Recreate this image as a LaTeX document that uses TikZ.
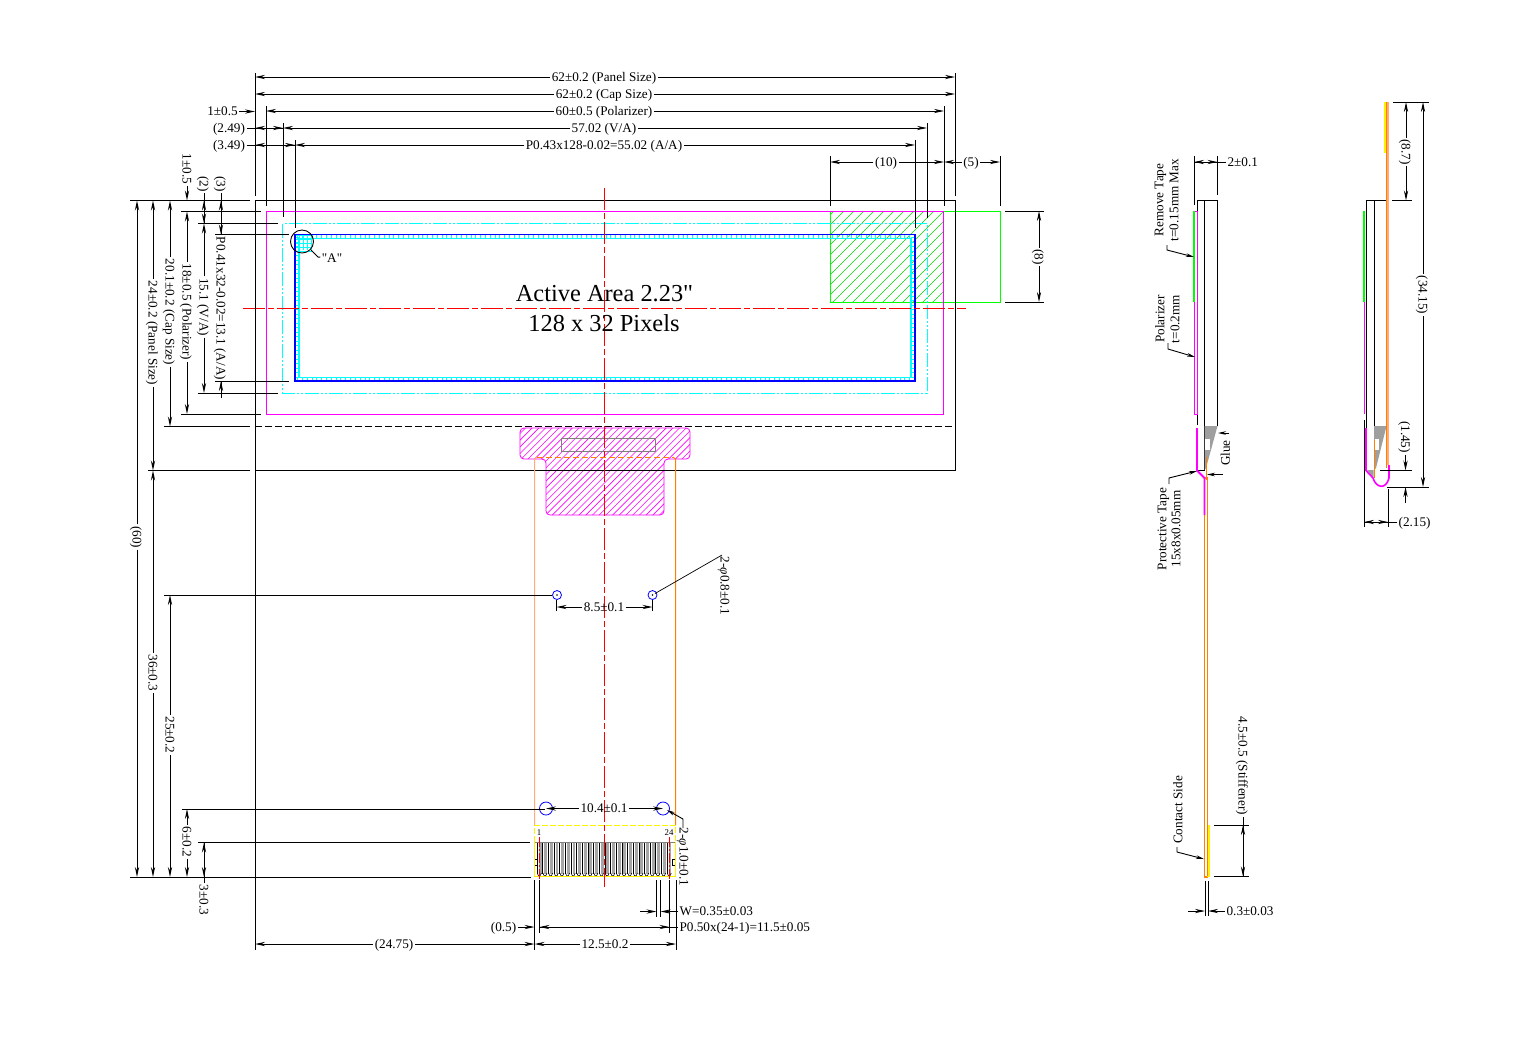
\documentclass[tikz,border=0pt]{standalone}
\usepackage{fontspec}
\setmainfont{Liberation Serif}[Ligatures=TeXOff]
\usetikzlibrary{arrows.meta}
\definecolor{fpcl}{RGB}{255,170,120}
\definecolor{fpc}{RGB}{255,128,0}
\definecolor{aqua}{RGB}{0,255,255}
\definecolor{lime}{RGB}{0,255,0}
\definecolor{pink}{RGB}{255,0,255}
\definecolor{ink}{RGB}{0,0,255}
\definecolor{centre}{RGB}{255,0,0}
\definecolor{sun}{RGB}{255,240,0}
\tikzset{
	ext/.style={line width=0.5pt},
	dim/.style={line width=0.5pt,-{Stealth[length=5pt,width=2.1pt]}},
	lead/.style={line width=0.45pt,-{Stealth[length=4pt,width=1.8pt]}},
	dimtext/.style={font=\fontsize{6.6}{7}\selectfont,inner sep=0.8pt,outer sep=0pt,text height=4.3pt,text depth=0pt},
	vtext/.style={dimtext,rotate=-90},
	utext/.style={dimtext,rotate=90},
	axis/.style={centre,line width=0.5pt,dash pattern=on 11pt off 1.5pt on 3pt off 1.5pt},
	phantomline/.style={aqua,line width=0.5pt,dash pattern=on 7pt off 1pt on 1pt off 1pt on 1pt off 1pt},
	hole/.style={ink,line width=0.4pt},
}
% name, y, x1, x2, x of text, text
\newcommand{\hdim}[6]{
	\node[dimtext] (#1) at (#5,#2) {#6};
	\draw[dim] (#1) -- (#3,#2);
	\draw[dim] (#1) -- (#4,#2);
}
% name, x, y1, y2, y of text, text
\newcommand{\vdim}[6]{
	\node[vtext] (#1) at (#2,#5) {#6};
	\draw[dim] (#1) -- (#2,#3);
	\draw[dim] (#1) -- (#2,#4);
}
\begin{document}
\begin{tikzpicture}[x=0.5pt,y=-0.5pt]
	\useasboundingbox (0,0) rectangle (1524,1041);
	\fill[white] (0,0) rectangle (1524,1041);

	% hatching
	\begin{scope}
		\clip[rounded corners=2pt] (520,428) -- (690,428) -- (690,459) -- (664,459) -- (664,515) -- (546,515) -- (546,459) -- (520,459) -- cycle;
		\foreach \k in {420,426.7,...,680}
			\draw[pink,line width=0.3pt] (\k,520) -- ++(100,-100);
	\end{scope}
	\draw[pink,line width=0.4pt,rounded corners=2pt] (520,428) -- (690,428) -- (690,459) -- (664,459) -- (664,515) -- (546,515) -- (546,459) -- (520,459) -- cycle;
	\draw[gray,line width=0.4pt] (561,438) rectangle (655,451);
	\begin{scope}
		\clip (830,211) rectangle (944,302);
		\foreach \k in {740,750,...,950}
			\draw[lime!85!black,line width=0.25pt] (\k,305) -- ++(100,-100);
	\end{scope}

	% lcd outlines
	\draw[lime,line width=0.5pt] (830,211) rectangle (1000,302);
	\draw[pink,line width=0.5pt] (266.5,211.5) rectangle (943.5,414);
	\draw[phantomline] (282.5,223.5) rectangle (927,393);
	\draw[aqua,line width=0.7pt] (299,238.5) rectangle (911,377.5);
	\foreach \k in {0,...,127} {
		\draw[aqua,line width=0.45pt] (297.5+\k*4.82,235) -- ++(0,4);
		\draw[aqua,line width=0.45pt] (297.5+\k*4.82,377) -- ++(0,4);
	}
	\foreach \k in {0,...,31} {
		\draw[aqua,line width=0.45pt] (295,237.5+\k*4.5) -- ++(4,0);
		\draw[aqua,line width=0.45pt] (911,237.5+\k*4.5) -- ++(4,0);
	}
	\foreach \k in {295,299.2,...,312} {
		\draw[aqua,line width=0.6pt] (\k,235) -- (\k,250);
		\draw[aqua,line width=0.6pt] (295,\k-60) -- (312,\k-60);
	}
	\draw[ink,line width=0.6pt] (295,234.5) rectangle (915,381);
	\draw[line width=0.45pt] (302,241.5) circle (11.5);
	\node[dimtext] (corner) at (332,258) {"A"};
	\draw[ext] (311,250) -- (318,257) -- (corner);

	% panel and tail
	\draw[ext] (255,200.5) rectangle (955,470.5);
	\draw[ext,dashed,dash pattern=on 3.5pt off 1.5pt] (255,426.5) -- (955,426.5);
	\draw[fpcl,line width=0.5pt] (534.5,825) -- (534.5,459) -- (537,457);
	\draw[fpc,line width=0.5pt] (675.5,825) -- (675.5,459) -- (673,457);
	\draw[fpc,line width=0.5pt,dashed,dash pattern=on 3pt off 1.5pt] (537,457) -- (673,457);
	\foreach \cx in {557,652.5} {
		\draw[hole] (\cx,595) circle (4.5);
		\fill (\cx,595) circle (0.8);
	}
	\foreach \cx in {546,663}
		\draw[hole] (\cx,808.5) circle (6.5);

	% contacts
	\foreach \k in {0,...,23} {
		\fill[gray!70] (538.6+\k*5.65,842.5) rectangle ++(2.9,31);
		\draw[line width=0.5pt] (537.3+\k*5.65,842.5) -- ++(0,31);
		\draw[line width=0.3pt] (537.3+\k*5.65,873) .. controls (538.3+\k*5.65,877) and (540.3+\k*5.65,877) .. (541.3+\k*5.65,873);
	}
	\draw[gray,line width=0.5pt] (534.5,842.5) -- (675.5,842.5);
	\draw[ext] (534.5,859) -- (537.5,859) -- (537.5,865) -- (534.5,865);
	\draw[ext] (675.5,859) -- (672.5,859) -- (672.5,865) -- (675.5,865);
	\draw[sun,line width=0.5pt,dashed,dash pattern=on 3pt off 1pt] (534.5,842) -- (534.5,825) -- (675.5,825) -- (675.5,842);
	\draw[sun,line width=0.8pt] (675.5,842) -- (675.5,876.5) -- (534.5,876.5) -- (534.5,842);
	\node[font=\fontsize{4.4}{5}\selectfont,inner sep=0pt] (pinfirst) at (539,833) {1};
	\node[font=\fontsize{4.4}{5}\selectfont,inner sep=0pt] (pinlast) at (669,833) {24};
	\foreach \cx in {539.5,669.5}
		\draw[axis,dash pattern=on 5pt off 1pt on 1pt off 1pt] (\cx,837) -- (\cx,880);

	% centre lines
	\draw[axis] (243,308) -- (966,308);
	\draw[axis] (604.5,188) -- (604.5,887);
	\node[font=\fontsize{12.2}{14}\selectfont,inner sep=0pt] (title) at (604.5,294) {Active Area 2.23"};
	\node[font=\fontsize{12.2}{14}\selectfont,inner sep=0pt] (pixels) at (604,323) {128 x 32 Pixels};

	% extension lines, top
	\draw[ext] (255,73) -- (255,196);
	\draw[ext] (955,73) -- (955,196);
	\draw[ext] (266,106) -- (266,206);
	\draw[ext] (944,106) -- (944,206);
	\draw[ext] (283,123) -- (283,217);
	\draw[ext] (927,123) -- (927,218);
	\draw[ext] (295,140) -- (295,228);
	\draw[ext] (915,140) -- (915,228);
	\draw[ext] (830,156) -- (830,206);
	\draw[ext] (1000,156) -- (1000,206);
	\draw[ext] (1005,211) -- (1044,211);
	\draw[ext] (1005,302) -- (1044,302);

	% extension lines, left
	\draw[ext] (130,200.5) -- (250,200.5);
	\draw[ext] (181,211.5) -- (261,211.5);
	\draw[ext] (198,223.5) -- (278,223.5);
	\draw[ext] (215,234.5) -- (289,234.5);
	\draw[ext] (215,381) -- (289,381);
	\draw[ext] (198,393) -- (278,393);
	\draw[ext] (181,414) -- (261,414);
	\draw[ext] (164,426.5) -- (250,426.5);
	\draw[ext] (148,470.5) -- (250,470.5);
	\draw[ext] (164,595) -- (552,595);
	\draw[ext] (182,809) -- (545,809);
	\draw[ext] (198,842.5) -- (530,842.5);
	\draw[ext] (130,877) -- (531,877);
	\draw[ext] (255,200.5) -- (255,950);

	% top dimensions
	\hdim{panelw}{77}{255}{955}{604}{62±0.2 (Panel Size)}
	\hdim{capw}{94}{255}{955}{604}{62±0.2 (Cap Size)}
	\hdim{polw}{111}{266}{944}{604}{60±0.5 (Polarizer)}
	\hdim{vaw}{128}{283}{927}{604}{57.02 (V/A)}
	\hdim{aaw}{145}{295}{915}{604}{P0.43x128-0.02=55.02 (A/A)}
	\node[dimtext] (polgap) at (222.5,111.5) {1±0.5};
	\draw[dim] (polgap) -- (255,111.5);
	\node[dimtext] (vagap) at (229,128) {(2.49)};
	\draw[dim] (vagap) -- (283,128);
	\draw[dim] (283,128) -- (255,128);
	\node[dimtext] (aagap) at (229,145) {(3.49)};
	\draw[dim] (aagap) -- (295,145);
	\draw[dim] (295,145) -- (255,145);
	\hdim{tapew}{162}{830}{944}{886}{(10)}
	\hdim{tapeout}{162}{944}{1000}{971}{(5)}
	\vdim{tapeh}{1039}{211}{302}{257}{(8)}

	% left dimensions
	\vdim{panelh}{137}{200.5}{877}{537}{(60)}
	\vdim{panelg}{153}{200.5}{470.5}{333}{24±0.2 (Panel Size)}
	\vdim{holey}{153}{470.5}{877}{673}{36±0.3}
	\vdim{caph}{170}{200.5}{426.5}{312}{20.1±0.2 (Cap Size)}
	\vdim{holeb}{170}{595}{877}{735}{25±0.2}
	\vdim{polh}{187}{211.5}{414}{312}{18±0.5 (Polarizer)}
	\vdim{vah}{204}{223.5}{393}{307}{15.1 (V/A)}
	\node[vtext] (aah) at (221,308.5) {P0.41x32-0.02=13.1 (A/A)};
	\draw[ext] (221,381) -- (221,398);
	\draw[dim] (221,398) -- (221,381);
	\node[vtext] (polgapv) at (187,169) {1±0.5};
	\draw[dim] (polgapv) -- (187,200.5);
	\node[vtext] (vagapv) at (204,184) {(2)};
	\draw[dim] (vagapv) -- (204,223.5);
	\draw[dim] (204,223.5) -- (204,200.5);
	\node[vtext] (aagapv) at (221,184) {(3)};
	\draw[dim] (aagapv) -- (221,234.5);
	\draw[dim] (221,234.5) -- (221,200.5);
	\vdim{padb}{187}{809}{877}{842}{6±0.2}
	\node[vtext] (fingh) at (204,900) {3±0.3};
	\draw[dim] (fingh) -- (204,842.5);
	\draw[dim] (204,842.5) -- (204,877);

	% tail dimensions
	\draw[ext] (556.5,600) -- (556.5,611);
	\draw[ext] (652.5,600) -- (652.5,611);
	\hdim{holew}{607}{556.5}{652.5}{604}{8.5±0.1}
	\hdim{padw}{808.5}{546}{663}{604}{10.4±0.1}
	\coordinate (leadtop) at (722,555);
	\draw[line width=0.35pt] (655,593.5) -- (leadtop);
	\node[vtext] (holedia) at (725,586) {2-{\itshape φ}0.8±0.1};
	\coordinate (padlead) at (683,819);
	\draw[lead] (683,828) -- (padlead) -- (667,810);
	\node[vtext] (paddia) at (684,857) {2-{\itshape φ}1.0±0.1};

	% bottom dimensions
	\draw[ext] (534.5,880) -- (534.5,950);
	\draw[ext] (676,880) -- (676,950);
	\draw[ext] (539.5,880) -- (539.5,933);
	\draw[ext] (669.5,880) -- (669.5,933);
	\draw[ext] (656.5,880) -- (656.5,917);
	\draw[ext] (660.5,880) -- (660.5,917);
	\node[dimtext,anchor=west] (fingw) at (678,911.5) {W=0.35±0.03};
	\draw[dim] (fingw) -- (660.5,911.5);
	\draw[dim] (640,911.5) -- (656.5,911.5);
	\node[dimtext,anchor=west] (fingp) at (678,927) {P0.50x(24-1)=11.5±0.05};
	\draw[dim] (fingp) -- (539.5,927);
	\draw[dim] (539.5,927) -- (669.5,927);
	\node[dimtext] (fingm) at (503.5,927) {(0.5)};
	\draw[dim] (fingm) -- (534.5,927);
	\hdim{tailw}{944}{534.5}{676}{605}{12.5±0.2}
	\hdim{tailx}{944}{255}{534.5}{394}{(24.75)}

	% side view, front
	\draw[ext] (1197.3,425) -- (1197.3,200.5) -- (1217.5,200.5) -- (1217.5,426);
	\draw[ext] (1204.5,200.5) -- (1204.5,470.5) -- (1197,470.5);
	\fill[gray!75] (1204.5,426) -- (1217.5,426) -- (1206,468) -- (1204.5,470) -- cycle;
	\fill[white] (1205,439) rectangle (1210,450);
	\draw[pink,line width=0.5pt] (1197,211) -- (1194.5,211) -- (1194.5,414) -- (1197,414) -- cycle;
	\draw[lime,line width=1pt] (1194,211) -- (1194,302);
	\draw[fpc,line width=0.7pt] (1204.7,877) rectangle (1207.3,478);
	\draw[fpc,line width=0.7pt] (1206.5,457) -- (1206.5,480);
	\draw[pink,line width=0.9pt] (1197,428) -- (1197,470.5) -- (1204.5,478) -- (1204.5,515);
	\draw[sun,line width=0.6pt] (1209,825) -- (1209,876.5) -- (1207,876.5);
	\draw[ext] (1194,156) -- (1194,205);
	\draw[ext] (1217.5,156) -- (1217.5,195);
	\node[dimtext,anchor=west] (thick) at (1226,162) {2±0.1};
	\draw[dim] (thick) -- (1194,162);
	\draw[dim] (1194,162) -- (1217.5,162);
	\node[utext] (remtape) at (1159,200) {Remove Tape};
	\node[utext] (remsize) at (1174,200) {t=0.15mm Max};
	\coordinate (remkink) at (1167,250);
	\draw[lead] (1167,245) -- (remkink) -- (1194,257);
	\node[utext] (poltext) at (1160,319) {Polarizer};
	\node[utext] (polsize) at (1175,319) {t=0.2mm};
	\coordinate (polkink) at (1168,349);
	\draw[lead] (1168,343) -- (polkink) -- (1195,357);
	\node[utext] (glue) at (1225.5,453) {Glue};
	\draw[lead] (1229,433) -- (1218,433);
	\node[utext] (prottape) at (1162,529) {Protective Tape};
	\node[utext] (protsize) at (1176,529) {15x8x0.05mm};
	\coordinate (protkink) at (1169,478);
	\draw[lead] (1169,484) -- (protkink) -- (1197,471);
	\draw[lead] (1223,474.5) -- (1207,474.5);
	\node[utext] (contact) at (1178,810) {Contact Side};
	\coordinate (contkink) at (1177,852);
	\draw[lead] (1177,847) -- (contkink) -- (1204,859);
	\draw[ext] (1214,825) -- (1249,825);
	\draw[ext] (1214,876.5) -- (1249,876.5);
	\node[vtext] (stiffh) at (1243,766) {4.5±0.5 (Stiffener)};
	\draw[dim] (stiffh) -- (1243,876.5);
	\draw[dim] (1243,876.5) -- (1243,825);
	\draw[ext] (1205,881) -- (1205,916);
	\draw[ext] (1208,881) -- (1208,916);
	\node[dimtext,anchor=west] (stiffw) at (1225,911) {0.3±0.03};
	\draw[dim] (stiffw) -- (1208,911);
	\draw[dim] (1188,911) -- (1205,911);

	% side view, back
	\draw[ext] (1366,428) -- (1366,200.5) -- (1386.5,200.5);
	\draw[ext] (1374,200.5) -- (1374,470.5);
	\fill[gray!75] (1374,426) -- (1386.5,426) -- (1376,468) -- (1374,470) -- cycle;
	\fill[white] (1375,439) rectangle (1379,450);
	\fill[gray!75] (1367,470) -- (1373.5,470) -- (1373.5,478) -- cycle;
	\draw[lime,line width=1pt] (1364,211) -- (1364,302);
	\draw[pink,line width=0.7pt] (1364.7,302) -- (1364.7,414);
	\draw[pink,line width=0.8pt] (1366,428) -- (1366,470.5) -- (1373,478) .. controls (1376,488) and (1386,490) .. (1389,478) -- (1389,465);
	\draw[fpcl,line width=0.9pt] (1388.3,102) -- (1388.3,465);
	\draw[fpc,line width=0.7pt] (1386.5,102) -- (1386.5,468);
	\draw[fpc,line width=0.6pt] (1374.5,440) -- (1374.5,478);
	\draw[sun,line width=0.7pt] (1385,102) -- (1385,153);
	\draw[ext] (1393,102) -- (1429,102);
	\draw[ext] (1392,200.5) -- (1412,200.5);
	\draw[ext] (1380,470.5) -- (1412,470.5);
	\draw[ext] (1387,487) -- (1429,487);
	\draw[ext] (1364,420) -- (1364,527);
	\draw[ext] (1388,489) -- (1388,527);
	\vdim{tailh}{1406}{102}{200.5}{152}{(8.7)}
	\vdim{sideh}{1423}{102}{487}{295}{(34.15)}
	\node[vtext] (bendh) at (1405.5,437) {(1.45)};
	\draw[dim] (bendh) -- (1405.5,470.5);
	\draw[dim] (1405.5,503) -- (1405.5,487);
	\node[dimtext,anchor=west] (bendw) at (1397,522) {(2.15)};
	\draw[dim] (bendw) -- (1364,522);
	\draw[dim] (1364,522) -- (1388,522);
\end{tikzpicture}
\end{document}
